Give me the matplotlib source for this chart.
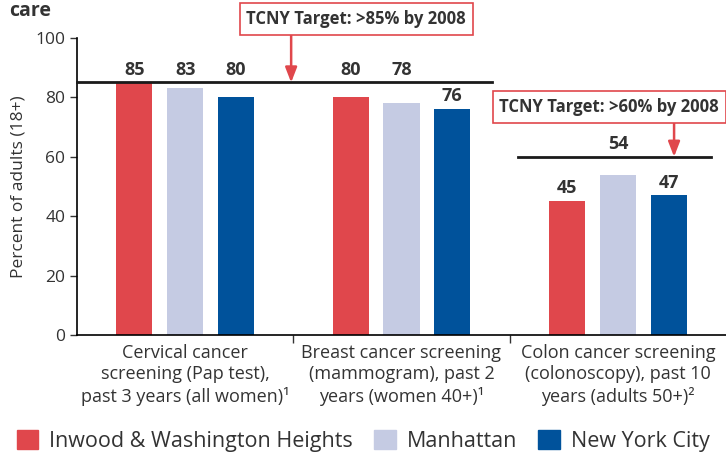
import matplotlib.pyplot as plt
import numpy as np
from matplotlib.patches import Patch

CATEGORIES = [
    "Cervical cancer\nscreening (Pap test),\npast 3 years (all women)\u00b9",
    "Breast cancer screening\n(mammogram), past 2\nyears (women 40+)\u00b9",
    "Colon cancer screening\n(colonoscopy), past 10\nyears (adults 50+)\u00b2",
]
SERIES = ["Inwood & Washington Heights", "Manhattan", "New York City"]
INWOOD = [85, 80, 45]
MANHATTAN = [83, 78, 54]
NYC = [80, 76, 47]
# which value labels sit above the target line instead of on the bar
ABOVE_TARGET = [[1, 1, 1], [1, 1, 0], [0, 1, 0]]

TARGETS = [85, 60]
TARGET_TEXT = ["TCNY Target: >85% by 2008", "TCNY Target: >60% by 2008"]

COLORS = ["#e0474c", "#c5cbe3", "#00529b"]
TEXT = "#333333"

plt.rcParams.update({"font.family": ["Open Sans", "DejaVu Sans"], "text.color": TEXT,
                     "axes.labelcolor": TEXT, "xtick.color": TEXT, "ytick.color": TEXT})

fig = plt.figure(figsize=(7.26, 4.57), dpi=100)
ax = fig.add_axes([0.106, 0.267, 0.894, 0.65])

x = np.arange(len(CATEGORIES))
step = 0.235
width = 0.167
values = [INWOOD, MANHATTAN, NYC]

# target lines: first spans groups 0-1, second spans group 2
line_spans = [(-0.5, 1.42), (1.54, 2.43)]
for t, (x0, x1) in zip(TARGETS, line_spans):
    ax.plot([x0, x1], [t, t], color="#1a1a1a", lw=2, zorder=3, clip_on=False)

for i, vals in enumerate(values):
    pos = x + (i - 1) * step
    ax.bar(pos, vals, width=width, color=COLORS[i], zorder=2)
    for g, (p, v) in enumerate(zip(pos, vals)):
        if ABOVE_TARGET[g][i]:
            t = TARGETS[0] if g < 2 else TARGETS[1]
            y = t + 1.3
        else:
            y = v + 1.3
        ax.text(p, y, str(v), ha="center", va="bottom", fontsize=13,
                fontweight="bold", color=TEXT)

# annotation boxes with arrows
box_pos = [(0.79, 106.4, 0.49), (1.96, 76.8, 2.26)]
for (bx, by, ax_x), t, txt in zip(box_pos, TARGETS, TARGET_TEXT):
    ax.text(bx, by, txt, ha="center", va="center", fontsize=12, fontweight="bold",
            color=TEXT, clip_on=False, zorder=5,
            bbox=dict(boxstyle="square,pad=0.4", fc="white", ec="#e0474c", lw=1.2))
    ax.annotate("", xy=(ax_x, t), xytext=(ax_x, by - 5.0), annotation_clip=False,
                arrowprops=dict(arrowstyle="-|>,head_width=0.35,head_length=0.9",
                                color="#e0474c", lw=1.8, shrinkA=0, shrinkB=0))

ax.set_xlim(-0.5, 2.5)
ax.set_ylim(0, 100)
ax.set_yticks([0, 20, 40, 60, 80, 100])
ax.tick_params(axis="y", labelsize=12.5, length=5, width=1)
ax.set_ylabel("Percent of adults (18+)", fontsize=12.5, labelpad=6)

ax.set_xticks([0.5, 1.5])
ax.set_xticklabels([])
ax.tick_params(axis="x", length=6, width=1)
for g, lab in enumerate(CATEGORIES):
    ax.text(g, -3.0, lab, ha="center", va="top", fontsize=13, linespacing=1.25,
            transform=ax.transData, clip_on=False)

for s in ["top", "right"]:
    ax.spines[s].set_visible(False)
ax.spines["left"].set_linewidth(1.2)
ax.spines["bottom"].set_linewidth(1.2)

fig.text(0.012, 1 - 16 / 457, "care", fontsize=14, fontweight="bold", va="baseline")

handles = [Patch(color=c) for c in COLORS]
fig.legend(handles, SERIES, loc="center", bbox_to_anchor=(0.5, 0.035), ncol=3,
           frameon=False, fontsize=15.5, handlelength=1.0, handleheight=1.0,
           handletextpad=0.5, columnspacing=1.0, borderpad=0.2)

fig.savefig("out.png", dpi=100)
